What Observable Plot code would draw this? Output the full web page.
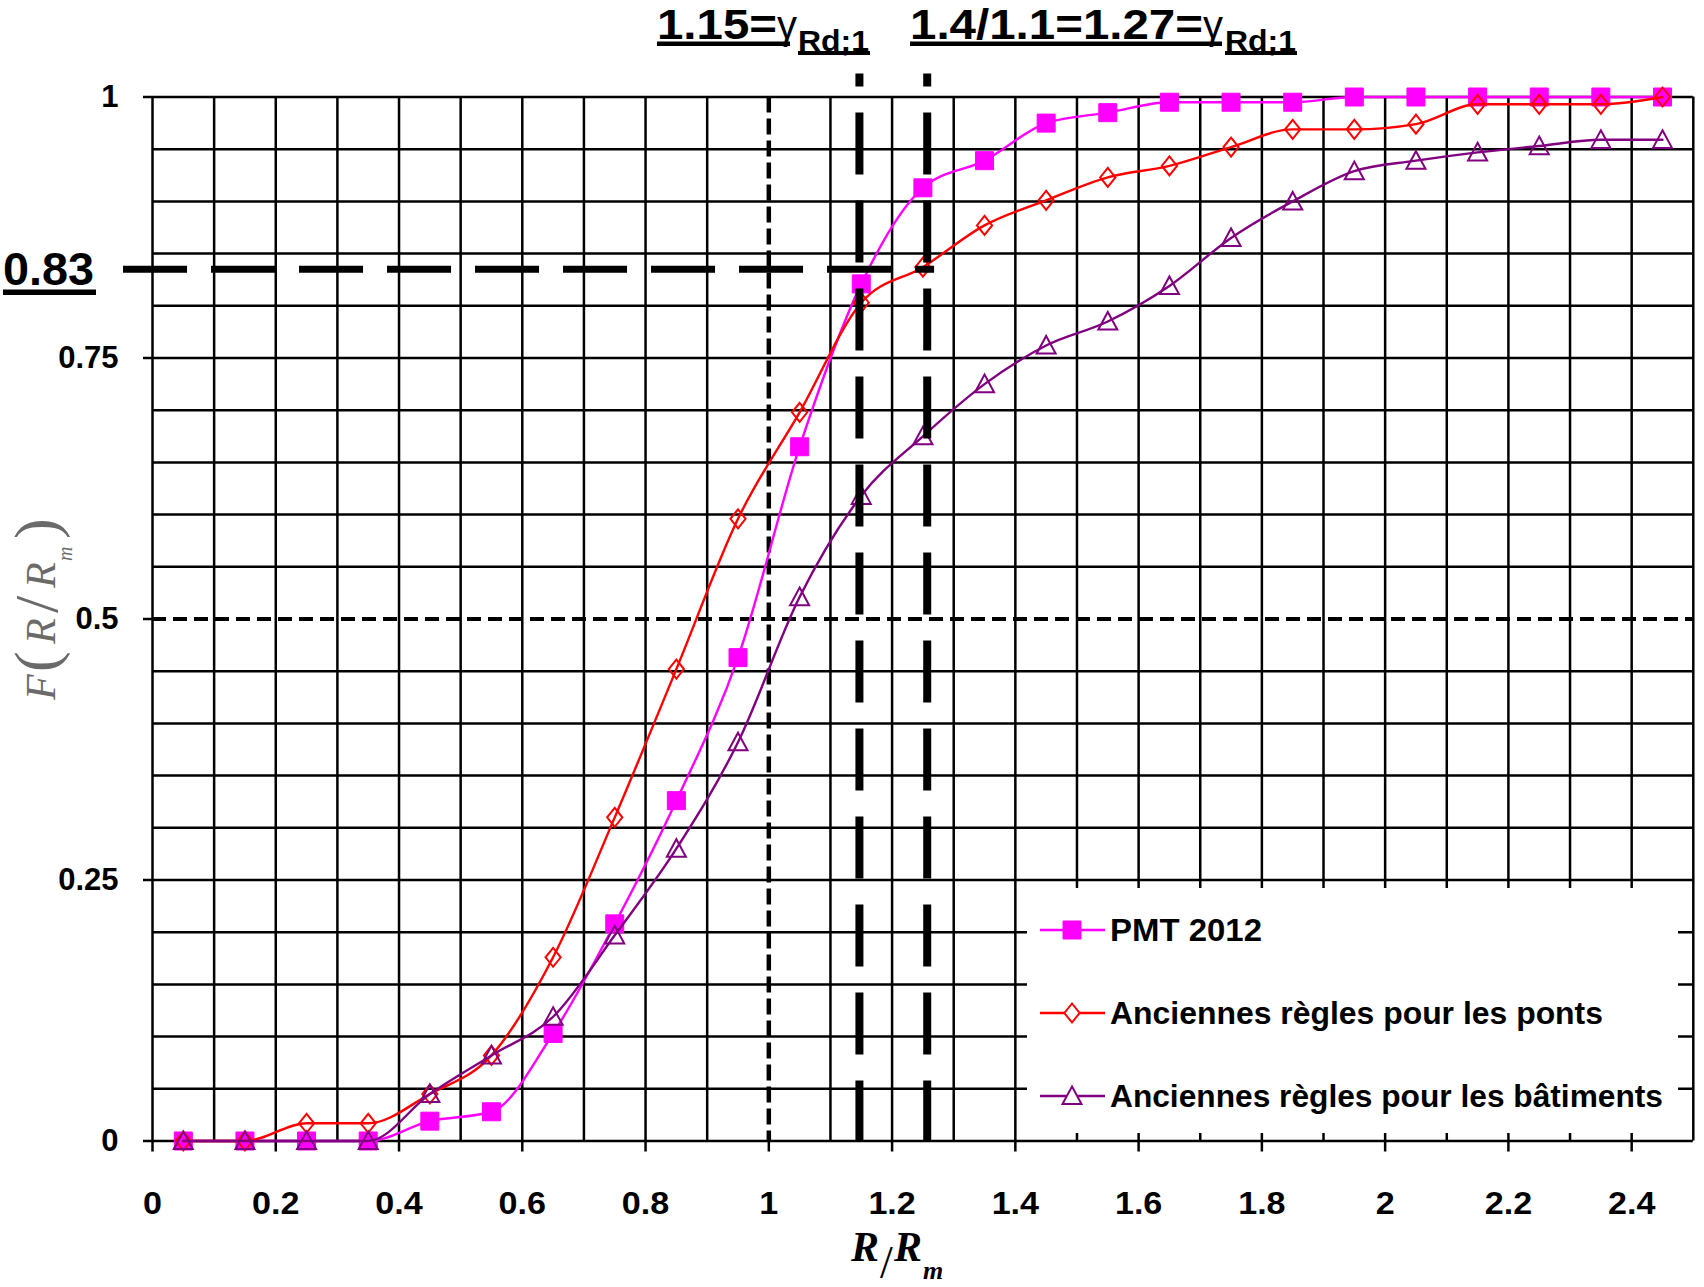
<!DOCTYPE html>
<html><head><meta charset="utf-8">
<script src="https://cdn.jsdelivr.net/npm/d3@7"></script>
<script src="https://cdn.jsdelivr.net/npm/@observablehq/plot@0.6"></script>
<style>
html,body{margin:0;padding:0;background:#fff;overflow:hidden;}
#wrap{position:relative;width:1704px;height:1287px;}
#wrap svg{position:absolute;left:0;top:0;}
</style></head><body><div id="wrap"></div>
<script>
// ---- data ----
const xs = [0.05,0.15,0.25,0.35,0.45,0.55,0.65,0.75,0.85,0.95,1.05,1.15,1.25,1.35,1.45,1.55,1.65,1.75,1.85,1.95,2.05,2.15,2.25,2.35,2.45];
const pmt2012 = [0,0,0,0,0.019,0.028,0.103,0.208,0.326,0.463,0.665,0.821,0.913,0.939,0.975,0.985,0.995,0.995,0.995,1,1,1,1,1,1];
const anciennesPonts = [0,0,0.017,0.017,0.045,0.082,0.176,0.31,0.452,0.596,0.698,0.803,0.837,0.877,0.901,0.923,0.934,0.952,0.969,0.969,0.974,0.993,0.993,0.993,1];
const anciennesBatiments = [0,0,0,0,0.045,0.082,0.119,0.197,0.28,0.382,0.521,0.618,0.675,0.725,0.762,0.785,0.819,0.865,0.9,0.929,0.939,0.947,0.953,0.959,0.959];
const seriesNames = ["PMT 2012","Anciennes règles pour les ponts","Anciennes règles pour les bâtiments"];
const seriesColors = ["#ff00ff","#ff0000","#800080"];
const xTickValues = [0,0.2,0.4,0.6,0.8,1,1.2,1.4,1.6,1.8,2,2.2,2.4];
const yTickValues = [0,0.25,0.5,0.75,1];
const xGridValues = [0,0.1,0.2,0.3,0.4,0.5,0.6,0.7,0.8,0.9,1.1,1.2,1.3,1.4,1.5,1.6,1.7,1.8,1.9,2,2.1,2.2,2.3,2.4,2.5];
const yGridValues = [0,0.05,0.1,0.15,0.2,0.25,0.3,0.35,0.4,0.45,0.55,0.6,0.65,0.7,0.75,0.8,0.85,0.9,0.95,1];
const medianLevel = [0.5];
const unitRatio = [1];
const gammaValues = [1.147, 1.257];
const levelValue = [0.835];

// ---- symbols ----
const squareSym = {draw(c, size){const r=Math.sqrt(size/Math.PI); c.moveTo(-r,-r); c.lineTo(r,-r); c.lineTo(r,r); c.lineTo(-r,r); c.closePath();}};
const diamondSym = {draw(c, size){const r=Math.sqrt(size/Math.PI); c.moveTo(0,-r); c.lineTo(0.8*r,0); c.lineTo(0,r); c.lineTo(-0.8*r,0); c.closePath();}};
const triangleSym = {draw(c, size){const r=Math.sqrt(size/Math.PI); c.moveTo(0,-r); c.lineTo(r,0.85*r); c.lineTo(-r,0.85*r); c.closePath();}};
const symStyles = [
  {symbol: squareSym, r: 9, fill: seriesColors[0], stroke: seriesColors[0], strokeWidth: 1},
  {symbol: diamondSym, r: 9.5, fill: "none", stroke: seriesColors[1], strokeWidth: 2},
  {symbol: triangleSym, r: 9.5, fill: "none", stroke: seriesColors[2], strokeWidth: 2}
];
const seriesValues = [pmt2012, anciennesPonts, anciennesBatiments];
const tables = seriesValues.map((vals, k) => xs.map((x, i) => ({x, y: vals[i], series: seriesNames[k]})));

const marks = [
  Plot.gridX(xGridValues, {stroke: "#000", strokeOpacity: 1, strokeWidth: 2.5}),
  Plot.gridY(yGridValues, {stroke: "#000", strokeOpacity: 1, strokeWidth: 2.5}),
  Plot.ruleY(medianLevel, {stroke: "#000", strokeWidth: 4, strokeDasharray: "14,7"}),
  Plot.ruleX(unitRatio, {stroke: "#000", strokeWidth: 4.5, strokeDasharray: "16,6"}),
  Plot.axisY(yTickValues, {tickSize: 9, tickPadding: 25, fontSize: 31, fontWeight: "bold", strokeWidth: 2.5, tickFormat: d => String(d), label: null}),
  Plot.axisX(xTickValues, {tickSize: 11, tickPadding: 40, fontSize: 31, fontWeight: "bold", strokeWidth: 2.5, tickFormat: d => String(d), label: null})
];
tables.forEach((t, k) => {
  marks.push(Plot.line(t, {x: "x", y: "y", stroke: seriesColors[k], strokeWidth: 2.4, curve: "monotone-x"}));
  marks.push(Plot.dot(t, {x: "x", y: "y", ...symStyles[k]}));
});
marks.push(Plot.ruleX(gammaValues, {x: d => d, y1: 1.022, y2: 0, stroke: "#000", strokeWidth: 8, strokeDasharray: "62,26", strokeDashoffset: 49}));
marks.push(Plot.ruleY(levelValue, {y: d => d, x1: -0.047, x2: 1.269, stroke: "#000", strokeWidth: 7, strokeDasharray: "64,24"}));

const chart = Plot.plot({
  width: 1704, height: 1287,
  marginLeft: 152, marginRight: 11.2, marginTop: 96.5, marginBottom: 146.5,
  x: {domain: [0, 2.5]},
  y: {domain: [0, 1]},
  style: {fontFamily: "'Liberation Sans', Arial, sans-serif", background: "white", overflow: "visible", color: "#000"},
  marks
});
const wrap = document.getElementById("wrap");
wrap.appendChild(chart);
// slightly wider tick labels, as in the source picture
const xl = chart.querySelector('g[aria-label="x-axis tick label"]');
if (xl) xl.querySelectorAll("text").forEach(t => { const tr = t.getAttribute("transform") || ""; t.setAttribute("transform", tr + " scale(1.1,1)"); });

// ---- overlay: annotations, legend, axis labels ----
const NS = "http://www.w3.org/2000/svg";
function el(tag, attrs, text) { const e = document.createElementNS(NS, tag); for (const k in attrs) e.setAttribute(k, attrs[k]); if (text != null) e.textContent = text; return e; }
const ov = el("svg", {width: 1704, height: 1287, "font-family": "'Liberation Sans', Arial, sans-serif"});
ov.style.pointerEvents = "none";
// top annotations
function gammaNote(x0, main, mainLen, ulLen, gx, sx) {
  ov.appendChild(el("text", {x: x0, y: 38.5, "font-size": 42, "font-weight": "bold", textLength: mainLen, lengthAdjust: "spacingAndGlyphs"}, main));
  ov.appendChild(el("rect", {x: x0, y: 41.5, width: ulLen, height: 4.5, fill: "#000"}));
  ov.appendChild(el("text", {x: gx, y: 38.5, "font-size": 40}, "γ"));
  ov.appendChild(el("text", {x: sx, y: 50.5, "font-size": 30, "font-weight": "bold", textLength: 71, lengthAdjust: "spacingAndGlyphs"}, "Rd;1"));
  ov.appendChild(el("rect", {x: sx, y: 51, width: 72, height: 4, fill: "#000"}));
}
gammaNote(657, "1.15=", 120, 133, 777, 798);
gammaNote(910, "1.4/1.1=1.27=", 293, 312, 1203, 1225);
// 0.83 label
ov.appendChild(el("text", {x: 3, y: 285, "font-size": 46, "font-weight": "bold", textLength: 91, lengthAdjust: "spacingAndGlyphs"}, "0.83"));
ov.appendChild(el("rect", {x: 3, y: 289.5, width: 93, height: 5.5, fill: "#000"}));
// legend
ov.appendChild(el("rect", {x: 1027, y: 888, width: 651, height: 245, fill: "#fff"}));
const rowY = [930, 1013, 1096];
const textLens = [152, 493, 553];
seriesNames.forEach((name, k) => {
  const cy = rowY[k];
  ov.appendChild(el("line", {x1: 1040, x2: 1105, y1: cy, y2: cy, stroke: seriesColors[k], "stroke-width": 2.4}));
  const p = d3.path();
  symStyles[k].symbol.draw(p, symStyles[k].r * symStyles[k].r * Math.PI);
  ov.appendChild(el("path", {d: p.toString(), transform: `translate(1072,${cy})`, fill: symStyles[k].fill === "none" ? "#fff" : symStyles[k].fill, stroke: symStyles[k].stroke, "stroke-width": symStyles[k].strokeWidth}));
  ov.appendChild(el("text", {x: 1110, y: cy + 11, "font-size": 31, "font-weight": "bold", textLength: textLens[k], lengthAdjust: "spacingAndGlyphs"}, name));
});
// x axis label R/Rm (one text element with tspans)
const xt = el("text", {"font-family": "'Liberation Serif', 'Times New Roman', serif", fill: "#000", "font-size": 42, "font-style": "italic", "font-weight": "bold"});
xt.appendChild(el("tspan", {x: 851, y: 1261}, "R"));
xt.appendChild(el("tspan", {x: 880, y: 1278, "font-size": 46, "font-style": "normal", "font-weight": "normal"}, "/"));
xt.appendChild(el("tspan", {x: 894, y: 1261}, "R"));
xt.appendChild(el("tspan", {x: 923, y: 1279, "font-size": 26}, "m"));
ov.appendChild(xt);
// y axis label F(R/Rm) (one text element with tspans)
const yt = el("text", {transform: "translate(55,0) rotate(-90)", "font-family": "'Liberation Serif', 'Times New Roman', serif", fill: "#6a6a6a", "font-size": 42});
yt.appendChild(el("tspan", {x: -700, y: 0, "font-style": "italic"}, "F"));
yt.appendChild(el("tspan", {x: -672, y: 2, "font-size": 62}, "("));
yt.appendChild(el("tspan", {x: -644, y: 0, "font-style": "italic"}, "R"));
yt.appendChild(el("tspan", {x: -613, y: 2, "font-size": 62}, "/"));
yt.appendChild(el("tspan", {x: -588, y: 0, "font-style": "italic"}, "R"));
yt.appendChild(el("tspan", {x: -561, y: 17, "font-size": 20, "font-style": "italic"}, "m"));
yt.appendChild(el("tspan", {x: -539, y: 2, "font-size": 62}, ")"));
ov.appendChild(yt);
wrap.appendChild(ov);
</script></body></html>
